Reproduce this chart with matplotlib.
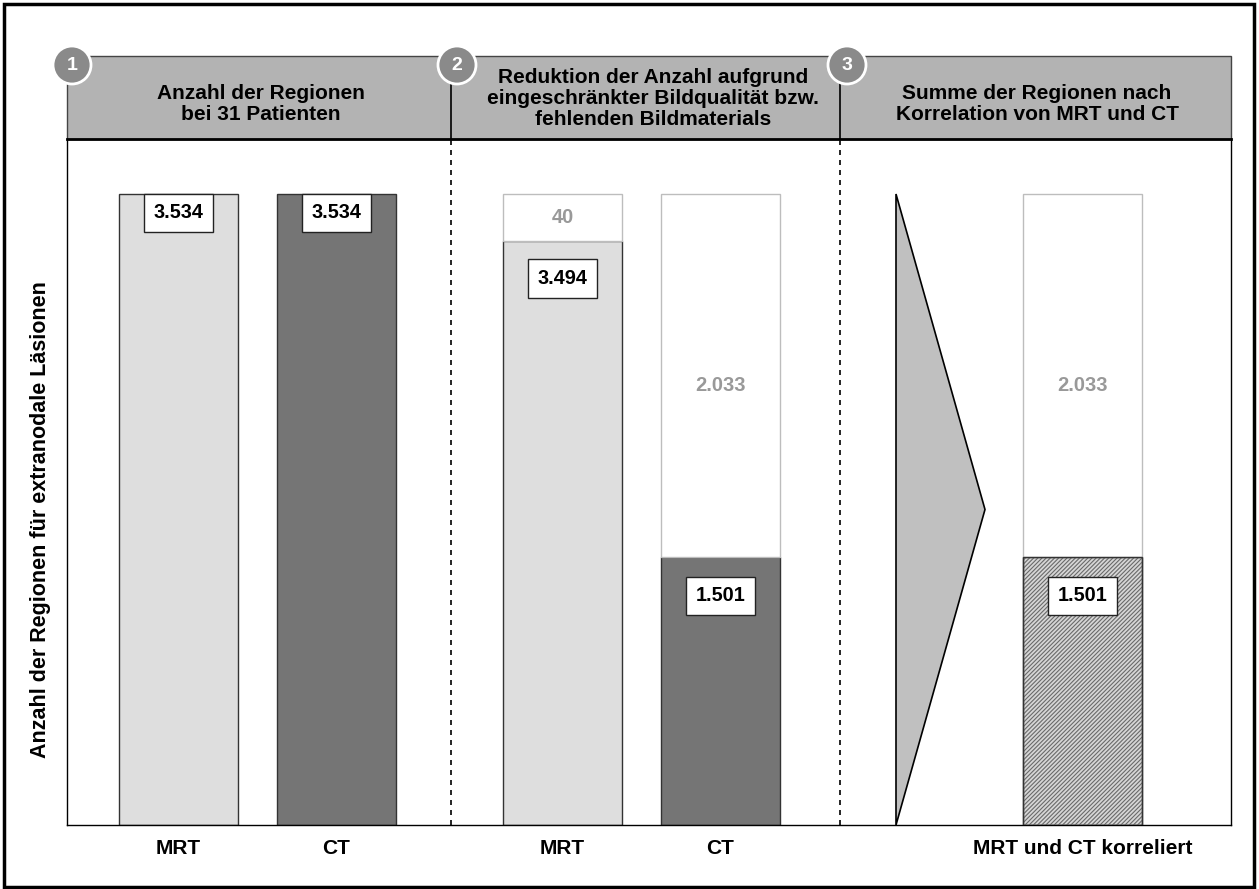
import matplotlib.pyplot as plt
from matplotlib.patches import Rectangle, Ellipse, Polygon

plt.rcParams['font.family'] = ['Liberation Sans', 'DejaVu Sans']
plt.rcParams['font.weight'] = 'bold'
plt.rcParams['hatch.linewidth'] = 0.8

# data
categories = ['MRT', 'CT', 'MRT', 'CT', 'MRT und CT korreliert']
available = [3534, 3534, 3494, 1501, 1501]
missing = [0, 0, 40, 2033, 2033]
value_labels = ['3.534', '3.534', '3.494', '1.501', '1.501']
missing_labels = ['', '', '40', '2.033', '2.033']
panel_titles = ['Anzahl der Regionen\nbei 31 Patienten',
                'Reduktion der Anzahl aufgrund\neingeschränkter Bildqualität bzw.\nfehlenden Bildmaterials',
                'Summe der Regionen nach\nKorrelation von MRT und CT']
panel_numbers = ['1', '2', '3']
ylabel = 'Anzahl der Regionen für extranodale Läsionen'
total = 3534

W, H = 1259, 889
fig = plt.figure(figsize=(W / 100, H / 100), dpi=100)
ax = fig.add_axes([67 / W, (H - 825) / H, 1164 / W, 686 / H])

xpos = [111.5, 269.5, 495.5, 653.5, 1015.5]
width = 119
dividers = [384, 773]
colors = ['#dedede', '#757575', '#dedede', '#757575', '#d6d6d6']

# small missing parts are drawn larger so that they stay visible
shown_missing = [max(m, 0.075 * total) if m else 0 for m in missing]
shown_avail = [a if m == 0 else total - sm for a, m, sm in zip(available, missing, shown_missing)]

ax.bar(xpos, shown_avail, width, color=colors, edgecolor='#333333', lw=1, zorder=2)
ax.bar(xpos[4], shown_avail[4], width, color='none', edgecolor='#6a6a6a',
       hatch='////////', lw=0, zorder=3)
ax.bar(xpos[4], shown_avail[4], width, color='none', edgecolor='#333333', lw=1, zorder=4)
for i in range(len(xpos)):
    if missing[i]:
        ax.bar(xpos[i], shown_missing[i], width, bottom=shown_avail[i], color='white',
               edgecolor='#bdbdbd', lw=1, zorder=2)
        off = 0 if missing[i] < 100 else -10
        ax.annotate(missing_labels[i], (xpos[i], shown_avail[i] + shown_missing[i] / 2),
                    xytext=(0, off), textcoords='offset pixels', ha='center', va='center',
                    fontsize=14.5, color='#999999', zorder=5)

label_off = [19, 19, 37, 39, 39]
for i in range(len(xpos)):
    ax.annotate(value_labels[i], (xpos[i], shown_avail[i]), xytext=(0, -label_off[i]),
                textcoords='offset pixels', ha='center', va='center', fontsize=14.3,
                bbox=dict(boxstyle='square,pad=0.5', fc='white', ec='#222222', lw=1), zorder=6)

# arrow shape in panel 3
ax.add_patch(Polygon([(829, total), (918, total / 2), (829, 0)], closed=True,
                     fc='#c0c0c0', ec='black', lw=1.2, zorder=2))

ax.set_xlim(0, 1164)
ax.set_ylim(0, total * 686 / 631)
ax.set_yticks([])
ax.set_xticks(xpos, categories, fontsize=15)
ax.tick_params(axis='x', length=0, pad=10)
for s in ['left', 'right', 'bottom']:
    ax.spines[s].set_linewidth(1)
ax.spines['top'].set_linewidth(2)

for d in dividers:
    ax.axvline(d, color='black', lw=1.2, ls=(0, (3, 3)), zorder=1)

# header band
hh = 83 / 686
ax.add_patch(Rectangle((0, 1), 1, hh, transform=ax.transAxes, fc='#b3b3b3',
                       ec='#444444', lw=1, clip_on=False, zorder=1))
xt = ax.get_xaxis_transform()
for d in dividers:
    ax.plot([d, d], [1, 1 + hh], transform=xt, color='black', lw=1.2, clip_on=False)
title_x = [194, 586, 970]
title_y = [1.051, 1.059, 1.051]
for tx, ty, t in zip(title_x, title_y, panel_titles):
    ax.text(tx, ty, t, transform=xt, ha='center', va='center', fontsize=15,
            linespacing=1.12)

# numbered circles
circle_x = [72, 457, 847]
for cx, n in zip(circle_x, panel_numbers):
    fig.patches.append(Ellipse((cx / W, 1 - 65 / H), 38 / W, 38 / H, transform=fig.transFigure,
                               fc='#8a8a8a', ec='white', lw=2))
    fig.text(cx / W, 1 - 65 / H, n, color='white', fontsize=14, ha='center', va='center')

fig.text(41 / W, 1 - 520 / H, ylabel, rotation=90, ha='center', va='center', fontsize=15.5)

# outer frame
fig.patches.append(Rectangle((4 / W, 2 / H), 1250 / W, 883 / H, transform=fig.transFigure,
                             fill=False, ec='black', lw=2.5))

fig.savefig('out.png', dpi=100)
